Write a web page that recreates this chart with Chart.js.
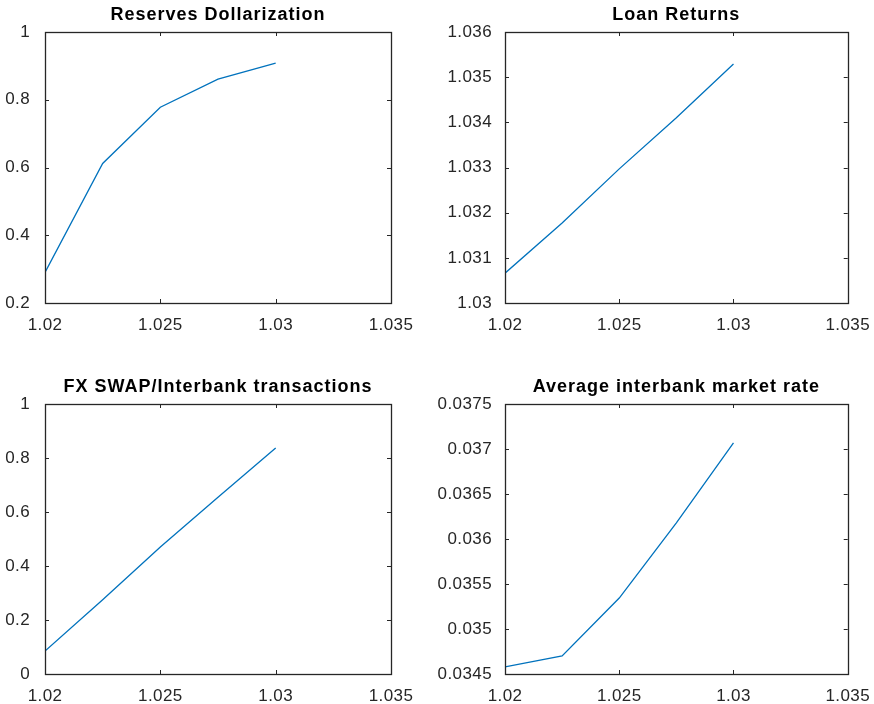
<!DOCTYPE html>
<html>
<head>
<meta charset="utf-8">
<script src="https://cdn.jsdelivr.net/npm/chart.js@4.4.1/dist/chart.umd.min.js"></script>
<style>
  html, body { margin: 0; padding: 0; background: #fff; }
  body { width: 874px; height: 704px; position: relative; overflow: hidden; }
  .panel { position: absolute; }
</style>
</head>
<body>
<div class="panel" style="left:0;top:0;width:437px;height:340px"><canvas id="c1"></canvas></div>
<div class="panel" style="left:417px;top:0;width:457px;height:340px"><canvas id="c2"></canvas></div>
<div class="panel" style="left:0;top:370px;width:437px;height:334px"><canvas id="c3"></canvas></div>
<div class="panel" style="left:417px;top:370px;width:457px;height:334px"><canvas id="c4"></canvas></div>
<script>
// x grid shared by all four panels
const xValues = [1.02, 1.0225, 1.025, 1.0275, 1.03];
const xTicks = [1.02, 1.025, 1.03, 1.035];

const reservesDollarization = [0.29, 0.612, 0.778, 0.861, 0.908];
const reservesTicks = [0.2, 0.4, 0.6, 0.8, 1];

const loanReturns = [1.03066, 1.03177, 1.03297, 1.03410, 1.03529];
const loanTicks = [1.03, 1.031, 1.032, 1.033, 1.034, 1.035, 1.036];

const fxSwap = [0.085, 0.275, 0.47, 0.655, 0.837];
const fxTicks = [0, 0.2, 0.4, 0.6, 0.8, 1];

const interbankRate = [0.034578, 0.0347, 0.035344, 0.03618, 0.037067];
const rateTicks = [0.0345, 0.035, 0.0355, 0.036, 0.0365, 0.037, 0.0375];

const AXIS_COLOR = '#262626';
const LINE_COLOR = '#0072BD';

// MATLAB style box with inward ticks on all sides + title
const matlabBox = {
    id: 'matlabBox',
    beforeLayout(chart) { chart.ctx.letterSpacing = '0.4px'; },
    beforeDraw(chart) { chart.ctx.letterSpacing = '0.4px'; },
    afterDraw(chart, args, opts) {
        const { ctx, chartArea: a, scales: { x, y } } = chart;
        ctx.save();
        ctx.strokeStyle = AXIS_COLOR;
        ctx.lineWidth = 1;
        ctx.beginPath();
        x.ticks.forEach(t => {
            const px = Math.round(x.getPixelForValue(t.value)) + 0.5;
            ctx.moveTo(px, a.bottom); ctx.lineTo(px, a.bottom - 4);
            ctx.moveTo(px, a.top); ctx.lineTo(px, a.top + 4);
        });
        y.ticks.forEach(t => {
            const py = Math.round(y.getPixelForValue(t.value)) + 0.5;
            ctx.moveTo(a.left, py); ctx.lineTo(a.left + 4, py);
            ctx.moveTo(a.right, py); ctx.lineTo(a.right - 4, py);
        });
        ctx.stroke();
        ctx.lineWidth = 1.3;
        ctx.strokeRect(Math.round(a.left) + 0.5, Math.round(a.top) + 0.5,
            Math.round(a.right - a.left), Math.round(a.bottom - a.top));

        ctx.letterSpacing = '1px';
        ctx.fillStyle = '#000';
        ctx.font = 'bold 18px "Liberation Sans", Arial, sans-serif';
        ctx.textAlign = 'center';
        ctx.textBaseline = 'middle';
        ctx.fillText(opts.text, (a.left + a.right) / 2, a.top - 17);
        ctx.restore();
    }
};

function makeChart(id, title, values, yTicks, yWidth, yPad, pad, xHeight) {
    const tickFont = { family: '"Liberation Sans", Arial, sans-serif', size: 17 };
    return new Chart(document.getElementById(id), {
        type: 'line',
        data: {
            datasets: [{
                data: xValues.map((v, i) => ({ x: v, y: values[i] })),
                borderColor: LINE_COLOR,
                borderWidth: 1.3,
                pointRadius: 0,
                tension: 0,
                fill: false
            }]
        },
        options: {
            responsive: true,
            maintainAspectRatio: false,
            animation: false,
            layout: { padding: pad },
            plugins: { legend: { display: false }, tooltip: { enabled: false }, matlabBox: { text: title } },
            scales: {
                x: {
                    type: 'linear',
                    min: xTicks[0],
                    max: xTicks[xTicks.length - 1],
                    grid: { display: false },
                    border: { display: false },
                    afterBuildTicks: s => { s.ticks = xTicks.map(v => ({ value: v })); },
                    afterFit: s => { s.height = xHeight; },
                    ticks: { color: AXIS_COLOR, font: tickFont, padding: 4, maxRotation: 0, autoSkip: false, callback: v => String(v) }
                },
                y: {
                    min: yTicks[0],
                    max: yTicks[yTicks.length - 1],
                    grid: { display: false },
                    border: { display: false },
                    afterBuildTicks: s => { s.ticks = yTicks.map(v => ({ value: v })); },
                    afterFit: s => { s.width = yWidth; },
                    ticks: { color: AXIS_COLOR, font: tickFont, padding: yPad, autoSkip: false, callback: v => String(v) }
                }
            }
        },
        plugins: [matlabBox]
    });
}

makeChart('c1', 'Reserves Dollarization', reservesDollarization, reservesTicks, 45, 7, { top: 32, right: 46, left: 0, bottom: 0 }, 37);
makeChart('c2', 'Loan Returns', loanReturns, loanTicks, 88, 5, { top: 32, right: 22, left: 0, bottom: 0 }, 37);
makeChart('c3', 'FX SWAP/Interbank transactions', fxSwap, fxTicks, 45, 7, { top: 34, right: 46, left: 0, bottom: 0 }, 30);
makeChart('c4', 'Average interbank market rate', interbankRate, rateTicks, 88, 5, { top: 34, right: 22, left: 0, bottom: 0 }, 30);
</script>
</body>
</html>
